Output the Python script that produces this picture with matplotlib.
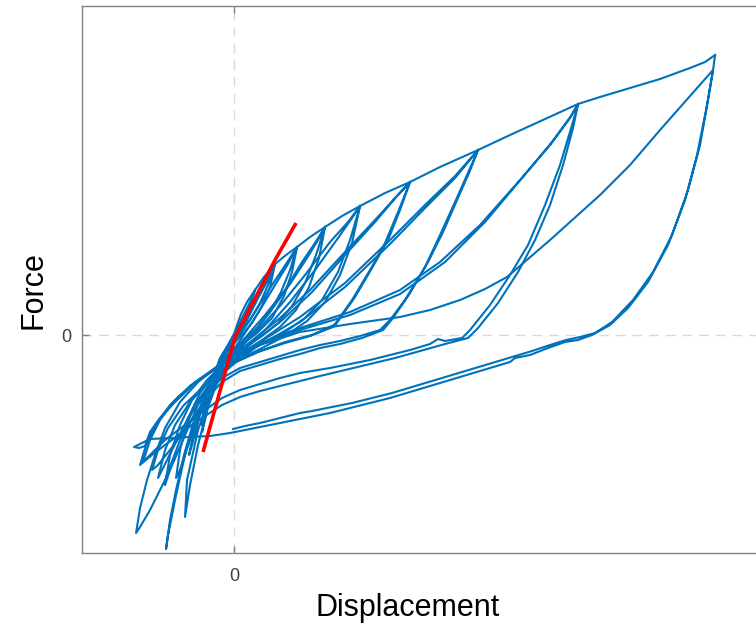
import matplotlib
matplotlib.use('Agg')
import matplotlib.pyplot as plt
import numpy as np

plt.rcParams['font.family'] = ['Liberation Sans', 'DejaVu Sans']

_c_loop = '#0072bd'
_c_fit = '#ff0000'
_c_axis = '#808080'
_c_grid = '#d9d9d9'

# skeleton curve (first loading), displacement / force
skeleton = np.array([
    (0, 0), (0.3, 1.0), (0.7, 2.1), (1.3, 3.3), (2.1, 4.5), (3.0, 5.8),
    (4.1, 7.1), (5.2, 8.0), (6.3, 8.8), (7.6, 9.8), (9.1, 10.8), (10.8, 11.9),
    (12.6, 12.9), (15.1, 14.2), (17.6, 15.3), (20.6, 16.8), (24.4, 18.5),
    (27.6, 20.0), (31.1, 21.6), (34.4, 23.1), (36.6, 23.8), (39.6, 24.7),
    (42.6, 25.6), (45.6, 26.7), (47.1, 27.3), (48.1, 28.0)])

# loops at each amplitude: unload -> reverse tip -> reload (two cycles)
loop1 = np.array([
    (2.1, 4.5), (1.6, 3.0), (1.1, 1.7), (0.4, 0.5), (-0.4, -0.7), (-1.2, -2.1),
    (-1.9, -3.7), (-1.4, -2.3), (-0.6, -1.0), (0.2, 0.5), (1.0, 2.1), (1.6, 3.3),
    (2.1, 4.5)])

loop2 = np.array([
    (4.1, 7.1), (3.4, 5.0), (2.6, 3.2), (1.6, 1.5), (0.6, 0.2), (-0.6, -1.2),
    (-1.6, -3.0), (-2.4, -5.3), (-2.7, -6.5),
    (-2.2, -4.5), (-1.4, -2.7), (-0.4, -1.2), (0.8, 0.7), (2.1, 3.2), (3.1, 5.1),
    (4.1, 7.1),
    (3.6, 4.8), (2.8, 2.9), (1.8, 1.2), (0.6, -0.2), (-0.8, -1.7), (-1.9, -3.7),
    (-2.5, -6.0),
    (-2.0, -4.1), (-1.2, -2.5), (-0.1, -0.8), (1.2, 1.3), (2.4, 3.7), (3.4, 5.5),
    (4.1, 7.1)])

loop3 = np.array([
    (6.3, 8.8), (5.6, 6.5), (4.7, 4.3), (3.6, 2.3), (2.3, 0.7), (0.8, -0.7),
    (-0.8, -2.2), (-2.0, -4.5), (-2.9, -7.5), (-3.3, -9.0),
    (-2.8, -6.5), (-2.0, -4.0), (-1.0, -2.2), (0.4, -0.3), (2.1, 2.3), (3.8, 5.0),
    (5.2, 7.1), (6.3, 8.8),
    (5.8, 6.3), (5.0, 3.9), (3.8, 1.7), (2.3, 0.2), (0.6, -1.1), (-1.0, -2.7),
    (-2.2, -5.5), (-2.9, -8.5), (-3.2, -9.7),
    (-2.7, -7.0), (-1.9, -4.5), (-0.8, -2.5), (0.7, -0.4), (2.4, 2.2), (4.1, 5.0),
    (5.4, 7.1), (6.3, 8.8)])

loop4 = np.array([
    (9.1, 10.8), (8.2, 8.0), (7.1, 5.2), (5.8, 2.9), (4.4, 1.2), (2.8, -0.1),
    (1.1, -1.2), (-0.6, -2.7), (-2.2, -5.0), (-3.4, -8.0), (-4.2, -11.0),
    (-4.5, -12.0),
    (-3.9, -9.0), (-3.1, -6.3), (-2.0, -3.9), (-0.6, -2.1), (1.1, -0.3), (3.1, 2.0),
    (5.1, 4.5), (6.8, 7.3), (8.1, 9.2), (9.1, 10.8),
    (8.5, 7.7), (7.5, 4.8), (6.2, 2.5), (4.6, 0.8), (2.8, -0.5), (0.9, -1.7),
    (-0.8, -3.2), (-2.4, -6.0), (-3.6, -9.5), (-4.7, -14.5), (-4.9, -18.2),
    (-4.4, -15.0), (-3.6, -11.0), (-2.7, -7.5), (-1.6, -4.5), (-0.2, -2.3),
    (1.6, -0.2), (3.6, 2.3), (5.6, 5.1), (7.3, 7.7), (8.4, 9.5), (9.1, 10.8)])

loop5 = np.array([
    (12.6, 12.9), (11.6, 9.5), (10.4, 6.3), (8.8, 3.5), (7.1, 1.7), (5.1, 0.3),
    (2.8, -0.8), (0.6, -2.0), (-1.2, -3.5), (-2.9, -6.3), (-4.4, -10.5),
    (-5.4, -13.5), (-5.8, -14.3),
    (-5.4, -11.5), (-4.6, -8.3), (-3.4, -5.8), (-1.9, -3.7), (0.1, -1.7),
    (2.1, 0.2), (4.6, 2.9), (7.1, 6.0), (9.6, 9.3), (11.4, 11.3), (12.6, 12.9),
    (11.8, 9.2), (10.6, 6.0), (9.1, 3.3), (7.3, 1.4), (5.1, -0.1), (2.8, -1.3),
    (0.4, -2.5), (-1.6, -4.3), (-3.4, -7.5), (-4.8, -11.5), (-5.9, -16.5),
    (-6.6, -20.0), (-6.8, -21.4),
    (-6.4, -18.5), (-5.8, -15.5), (-5.0, -12.0), (-4.0, -8.5), (-2.8, -6.0),
    (-1.2, -3.7), (0.8, -1.7), (3.1, 0.5), (5.6, 3.3), (8.1, 6.5), (10.4, 9.7),
    (11.8, 11.7), (12.6, 12.9)])

loop6 = np.array([
    (17.6, 15.3), (16.4, 12.3), (15.1, 9.2), (13.6, 6.5), (11.8, 3.5), (9.9, 0.8),
    (7.6, -0.1), (5.1, -0.8), (2.6, -1.6), (0.4, -2.5), (-1.6, -4.0), (-3.4, -6.5),
    (-5.1, -10.5), (-6.4, -13.5), (-6.9, -15.0),
    (-6.4, -12.0), (-5.4, -9.0), (-4.2, -6.5), (-2.7, -4.5), (-0.9, -2.7),
    (1.6, -0.7), (4.6, 1.7), (7.6, 4.5), (11.1, 8.3), (14.1, 11.5), (16.1, 13.7),
    (17.6, 15.3),
    (16.6, 12.5), (15.4, 9.5), (13.8, 6.7), (12.1, 3.8), (10.2, 1.1), (7.8, 0.0),
    (5.1, -0.7), (2.4, -1.7), (-0.2, -2.9), (-2.2, -4.5), (-3.9, -7.0),
    (-5.4, -10.5), (-6.9, -14.5), (-8.4, -17.5), (-9.4, -19.2), (-9.8, -19.8),
    (-9.4, -17.3), (-8.7, -14.5), (-7.9, -12.0), (-6.9, -9.3), (-5.4, -6.7),
    (-3.6, -4.7), (-1.4, -3.0), (1.4, -1.1), (4.6, 1.3), (7.8, 4.3), (11.1, 8.0),
    (14.1, 11.3), (16.3, 13.9), (17.6, 15.3)])

loop7 = np.array([
    (24.4, 18.5), (23.3, 16.0), (22.1, 13.3), (20.6, 10.0), (19.1, 6.8),
    (17.1, 3.5), (15.6, 1.5), (14.6, 0.5), (12.6, -0.1), (10.6, -0.6),
    (8.6, -1.0), (6.6, -1.5), (4.6, -2.1), (2.6, -2.7), (0.6, -3.3), (-1.2, -4.3),
    (-2.9, -6.0), (-4.6, -8.3), (-6.0, -11.1), (-7.1, -13.3), (-7.6, -14.3),
    (-6.9, -11.5), (-5.9, -9.0), (-4.4, -6.7), (-2.6, -4.8), (-0.4, -3.0),
    (2.6, -0.7), (6.6, 1.8), (11.1, 5.2), (15.6, 9.5), (19.1, 13.0), (22.1, 15.9),
    (24.4, 18.5),
    (23.5, 16.2), (22.3, 13.5), (20.9, 10.3), (19.4, 7.3), (17.6, 4.2),
    (15.9, 1.7), (14.9, 0.5), (12.8, -0.3), (10.6, -0.9), (8.6, -1.3),
    (6.6, -1.9), (4.6, -2.4), (2.6, -3.0), (0.6, -3.6), (-1.2, -4.7),
    (-2.9, -6.5), (-4.6, -9.0), (-6.4, -11.5), (-7.6, -13.0), (-8.2, -13.5),
    (-7.6, -11.5), (-6.6, -9.3), (-5.1, -7.1), (-3.2, -5.3), (-0.9, -3.5),
    (2.1, -1.3), (6.6, 1.3), (11.1, 4.8), (15.6, 9.1), (19.1, 12.7), (22.1, 15.7),
    (24.4, 18.5)])

loop8 = np.array([
    (34.4, 23.1), (33.8, 21.0), (32.6, 17.0), (31.1, 13.0), (29.4, 9.0),
    (27.6, 6.0), (25.6, 3.0), (23.6, 0.5), (22.8, -0.3), (21.1, -0.6),
    (20.4, -0.4), (19.6, -0.9), (17.6, -1.5), (15.6, -2.0), (13.6, -2.5),
    (11.6, -2.9), (9.6, -3.3), (6.6, -3.8), (4.6, -4.3), (2.6, -4.9),
    (0.6, -5.5), (-1.2, -6.3), (-2.9, -7.5), (-4.9, -9.0), (-6.9, -10.5),
    (-8.4, -12.0), (-9.1, -12.7),
    (-8.4, -10.5), (-7.4, -8.5), (-5.9, -6.5), (-3.9, -4.7), (-1.6, -3.1),
    (1.1, -1.5), (4.1, -0.2), (6.6, 0.7), (11.6, 2.3), (16.6, 4.5), (20.6, 7.3),
    (24.6, 11.0), (28.6, 15.5), (31.6, 19.0), (33.6, 21.7), (34.4, 23.1),
    (33.9, 20.7), (32.9, 17.0), (31.6, 13.0), (30.1, 9.5), (28.4, 6.3),
    (26.4, 3.2), (24.4, 0.7), (23.4, -0.3), (21.1, -0.9), (18.6, -1.6),
    (16.1, -2.3), (13.6, -2.9), (11.1, -3.5), (8.6, -4.1), (6.6, -4.6),
    (4.6, -5.1), (2.6, -5.6), (0.6, -6.2), (-1.2, -7.0), (-2.9, -8.1),
    (-4.9, -9.5), (-6.9, -11.0), (-8.6, -12.3), (-9.4, -13.0),
    (-8.8, -11.0), (-7.9, -9.0), (-6.4, -7.0), (-4.4, -5.1), (-2.0, -3.5),
    (0.6, -1.9), (3.6, -0.5), (6.6, 0.5), (11.6, 2.0), (16.6, 4.1), (21.1, 7.3),
    (25.1, 11.3), (28.8, 15.7), (31.8, 19.3), (33.7, 21.9), (34.4, 23.1)])

loop9 = np.array([
    (48.1, 28.0), (47.9, 26.5), (47.2, 22.5), (46.3, 18.0), (45.1, 13.5),
    (43.4, 9.0), (41.4, 5.3), (39.4, 2.7), (37.6, 1.0), (35.8, 0.0),
    (34.4, -0.5), (33.1, -0.7), (31.4, -1.3), (29.6, -2.0), (28.1, -2.3),
    (27.6, -2.7), (25.6, -3.3), (23.6, -3.9), (21.6, -4.5), (19.6, -5.1),
    (17.6, -5.7), (15.6, -6.3), (13.6, -6.8), (11.6, -7.3), (9.6, -7.8),
    (6.6, -8.4), (3.6, -9.0), (1.6, -9.4), (-0.4, -9.8), (-2.4, -10.1),
    (-4.4, -10.2), (-6.4, -10.3), (-8.4, -10.4), (-9.4, -10.9), (-10.0, -11.2),
    (-9.5, -11.3), (-8.9, -11.1),
    (-8.4, -9.7), (-7.4, -8.3), (-5.9, -6.7), (-3.9, -4.8), (-1.9, -3.3),
    (0.1, -2.1), (2.6, -1.0), (6.6, 0.3), (11.6, 1.1), (16.6, 1.8), (19.6, 2.5),
    (22.6, 3.5), (25.1, 4.6), (27.3, 5.8), (31.6, 9.5), (36.6, 14.0),
    (39.6, 17.0), (42.6, 20.5), (45.6, 23.9), (47.9, 26.5),
    (47.4, 23.5), (46.6, 19.0), (45.4, 14.5), (43.8, 10.0), (41.9, 6.3),
    (39.9, 3.5), (37.8, 1.3), (36.1, 0.2), (34.6, -0.2), (33.2, -0.5),
    (31.6, -1.0), (29.8, -1.6), (27.8, -2.2), (25.8, -2.8), (23.8, -3.4),
    (21.8, -4.0), (19.8, -4.6), (17.8, -5.2), (15.8, -5.8), (13.8, -6.3),
    (11.8, -6.8), (9.8, -7.2), (7.8, -7.6), (6.6, -7.8), (4.6, -8.3),
    (2.6, -8.8), (1.1, -9.1), (-0.1, -9.4)])

# initial stiffness fit
fit_disp = [-3.1, 0.1, 4.1, 6.2]
fit_force = [-11.7, -0.2, 7.5, 11.2]

fig = plt.figure(figsize=(7.56, 6.25), dpi=100)
ax = fig.add_axes([0.1085, 0.1152, 0.9167, 0.8752])

ax.plot(skeleton[:, 0], skeleton[:, 1], color=_c_loop, lw=1.5, zorder=3)
for loop in [loop1, loop2, loop3, loop4, loop5, loop6, loop7, loop8, loop9]:
    ax.plot(loop[:, 0], loop[:, 1], color=_c_loop, lw=1.5, zorder=3)
ax.plot(fit_disp, fit_force, color=_c_fit, lw=2.6, zorder=4,
        solid_capstyle='butt')

ax.set_xlim(-15.2, 54.1)
ax.set_ylim(-21.8, 32.9)
ax.set_xticks([0])
ax.set_yticks([0])
ax.set_xticklabels(['0'])
ax.set_yticklabels(['0'])
ax.grid(True, color=_c_grid, linestyle=(0, (7, 5)), linewidth=1)
ax.set_axisbelow(True)

for s in ['left', 'bottom', 'top']:
    ax.spines[s].set_color(_c_axis)
    ax.spines[s].set_linewidth(1.0)
ax.spines['right'].set_visible(False)

ax.tick_params(axis='x', direction='in', length=5, width=1, color=_c_axis,
               top=True, labelsize=13, labelcolor='#404040', pad=11)
ax.tick_params(axis='y', direction='in', length=5, width=1, color=_c_axis,
               right=False, labelsize=13, labelcolor='#404040', pad=8)

fig.text(408 / 756, 1 - 616 / 625, 'Displacement', ha='center',
         va='baseline', fontsize=22)
fig.text(33 / 756, 1 - 290 / 625, 'Force', ha='center', va='center',
         rotation=90, fontsize=22)

fig.savefig('out.png', dpi=100)
